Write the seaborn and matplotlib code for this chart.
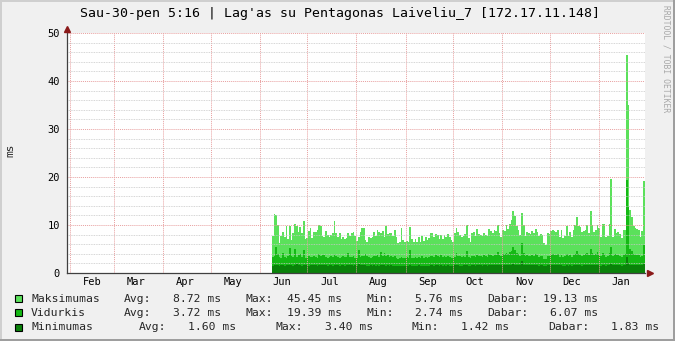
import numpy as np
import pandas as pd
import matplotlib
matplotlib.use("Agg")
import matplotlib.pyplot as plt
import matplotlib.dates as mdates
from matplotlib.patches import Rectangle
from matplotlib.ticker import MultipleLocator, NullFormatter
import seaborn as sns

# ---------------- data ----------------
title = "Sau-30-pen 5:16 | Lag'as su Pentagonas Laiveliu_7 [172.17.11.148]"
y_label = "ms"
x_start = "2014-01-30 05:16"
x_end = "2015-01-30 05:16"
data_start = "2014-06-08 14:00"
data_end = "2015-01-30 03:00"

series_names = ["Maksimumas", "Vidurkis", "Minimumas"]

max_vals = [
    7.8, 12.3, 12.0, 10.0, 6.2, 7.8, 8.6, 7.5, 9.7, 7.0, 9.8, 6.9, 8.3, 10.2, 9.8, 8.5, 9.6, 8.4,
    10.8, 7.1, 7.3, 8.8, 9.3, 7.3, 8.6, 8.6, 9.0, 10.0, 9.7, 7.8, 7.6, 8.7, 8.0, 7.6, 8.0, 8.3,
    10.9, 8.3, 7.6, 8.3, 7.0, 7.5, 7.1, 7.3, 8.4, 7.7, 8.3, 8.6, 7.7, 6.7, 7.6, 8.6, 9.4, 9.4,
    6.9, 6.5, 7.6, 7.3, 7.4, 8.5, 7.7, 9.0, 8.6, 8.3, 8.7, 7.6, 9.7, 8.1, 8.3, 8.4, 7.7, 9.0, 7.6,
    6.3, 6.5, 9.3, 6.9, 6.5, 6.7, 6.5, 9.5, 7.1, 6.5, 7.1, 6.5, 7.4, 6.5, 7.7, 6.7, 7.4, 6.9, 7.3,
    8.4, 8.3, 7.4, 8.2, 8.0, 7.1, 8.0, 7.1, 8.0, 7.6, 8.1, 7.6, 6.9, 6.5, 8.3, 9.3, 8.6, 8.0, 7.6,
    7.7, 8.1, 10.0, 7.3, 6.5, 8.3, 8.6, 7.7, 9.1, 8.2, 8.0, 7.7, 8.4, 8.0, 7.7, 9.1, 8.8, 8.3, 9.0,
    8.8, 9.9, 8.3, 7.6, 9.0, 8.8, 10.0, 9.1, 10.3, 11.0, 12.9, 11.9, 9.8, 9.0, 8.0, 12.4, 10.0, 7.7,
    8.6, 8.4, 8.1, 8.8, 8.3, 9.1, 8.6, 7.7, 8.1, 8.0, 6.2, 5.8, 8.3, 8.1, 8.8, 9.0, 8.8, 8.6, 9.0, 7.6,
    9.0, 7.2, 7.7, 9.8, 7.7, 8.6, 7.6, 9.0, 10.0, 11.7, 9.7, 9.5, 8.6, 8.7, 9.0, 10.0, 8.4, 12.9,
    10.0, 8.6, 9.0, 10.1, 9.3, 7.6, 10.3, 10.2, 7.6, 7.7, 10.3, 19.5, 7.6, 9.1, 8.3, 8.6, 8.1, 7.2,
    9.0, 9.0, 45.45, 35.0, 13.1, 11.7, 9.7, 9.3, 9.1, 9.0, 7.6, 8.7, 19.2,
]

mid_vals = [
    3.4, 3.6, 5.5, 3.9, 3.3, 3.1, 4.1, 3.4, 3.2, 3.6, 5.3, 3.5, 3.3, 5.0, 3.4, 3.7, 4.0, 3.3,
    4.7, 3.2, 3.1, 3.5, 3.3, 3.4, 3.6, 3.3, 3.2, 4.0, 3.5, 3.7, 3.8, 3.4, 3.2, 3.3, 3.5, 3.4,
    3.9, 3.6, 3.3, 3.2, 3.4, 3.5, 3.3, 3.3, 4.2, 3.4, 3.3, 3.6, 3.2, 3.1, 4.8, 3.4, 3.6, 3.5,
    3.9, 3.5, 3.3, 3.2, 3.4, 3.6, 3.5, 3.8, 3.4, 4.3, 3.6, 4.1, 3.5, 3.8, 3.4, 3.6, 3.3, 3.5, 3.2,
    3.0, 3.1, 3.4, 3.2, 3.1, 3.3, 3.1, 4.8, 3.2, 3.1, 3.3, 3.2, 3.4, 3.1, 3.5, 3.2, 3.3, 3.2, 3.3,
    3.6, 3.5, 3.3, 3.7, 3.5, 3.4, 3.8, 3.4, 3.6, 3.3, 3.5, 3.4, 3.2, 3.1, 3.4, 4.1, 3.6, 3.5, 3.3,
    3.5, 3.4, 4.6, 3.3, 3.1, 3.5, 3.6, 3.4, 3.8, 3.5, 3.6, 3.4, 3.7, 3.5, 3.4, 3.9, 3.8, 3.6, 3.9,
    3.7, 4.3, 3.8, 3.5, 4.0, 3.9, 4.2, 4.0, 4.4, 4.6, 5.5, 4.8, 4.1, 3.9, 3.6, 6.2, 4.2, 3.5,
    3.7, 3.6, 3.5, 3.8, 3.6, 3.9, 3.7, 3.4, 3.6, 3.5, 3.0, 2.9, 3.6, 3.5, 3.8, 3.9, 3.8, 3.7, 3.9, 3.4,
    3.8, 3.4, 3.6, 4.0, 3.5, 3.7, 3.4, 3.8, 4.0, 4.6, 3.9, 3.7, 3.6, 3.8, 3.9, 4.2, 3.7, 4.9,
    4.1, 3.8, 3.9, 4.3, 3.8, 3.5, 4.1, 4.0, 3.4, 3.6, 4.2, 5.5, 3.5, 3.9, 3.7, 3.8, 3.6, 3.4,
    3.8, 3.9, 19.39, 13.75, 5.1, 4.6, 3.9, 3.8, 3.7, 3.8, 3.4, 3.6, 5.8,
]

min_vals = [
    1.5, 1.6, 1.7, 1.6, 1.5, 1.6, 1.6, 1.5, 1.6, 1.6, 1.7, 1.6, 1.5, 1.6, 1.8, 1.6, 1.6, 1.5,
    1.7, 1.6, 1.6, 1.5, 1.6, 1.6, 1.7, 1.6, 1.5, 1.6, 1.6, 1.6, 1.7, 1.6, 1.5, 1.6, 1.6, 1.5,
    1.7, 1.6, 1.6, 1.5, 1.6, 1.6, 1.5, 1.6, 1.7, 1.6, 1.6, 1.5, 1.6, 1.5, 1.8, 1.6, 1.6, 1.6,
    1.6, 1.5, 1.5, 1.6, 1.5, 1.6, 1.5, 1.6, 1.5, 1.7, 1.6, 1.6, 1.5, 1.6, 1.5, 1.6, 1.5, 1.5, 1.5,
    1.4, 1.5, 1.5, 1.5, 1.5, 1.5, 1.5, 1.7, 1.5, 1.5, 1.5, 1.5, 1.6, 1.5, 1.5, 1.5, 1.5, 1.5, 1.5,
    1.6, 1.6, 1.5, 1.6, 1.6, 1.5, 1.6, 1.5, 1.6, 1.5, 1.6, 1.5, 1.5, 1.5, 1.6, 1.7, 1.6, 1.5, 1.5,
    1.6, 1.6, 1.7, 1.5, 1.5, 1.6, 1.6, 1.5, 1.6, 1.6, 1.6, 1.5, 1.6, 1.6, 1.5, 1.6, 1.6, 1.6, 1.7,
    1.6, 1.7, 1.6, 1.6, 1.6, 1.6, 1.7, 1.6, 1.7, 1.7, 1.8, 1.7, 1.6, 1.6, 1.6, 2.4, 1.7, 1.6,
    1.6, 1.6, 1.6, 1.6, 1.6, 1.7, 1.6, 1.5, 1.6, 1.6, 1.5, 1.5, 1.6, 1.6, 1.6, 1.7, 1.6, 1.6, 1.7, 1.6,
    1.6, 1.5, 1.5, 1.6, 1.5, 1.6, 1.5, 1.6, 1.6, 1.7, 1.6, 1.6, 1.5, 1.6, 1.6, 1.7, 1.6, 1.7,
    1.6, 1.6, 1.6, 1.7, 1.6, 1.5, 1.6, 1.6, 1.5, 1.6, 1.6, 1.8, 1.6, 1.6, 1.6, 1.6, 1.6, 1.5,
    1.6, 1.7, 3.4, 2.0, 1.7, 1.7, 1.7, 1.6, 1.7, 1.7, 1.7, 1.7, 1.8,
]

stat_avg = [8.72, 3.72, 1.60]
stat_max = [45.45, 19.39, 3.40]
stat_min = [5.76, 2.74, 1.42]
stat_cur = [19.13, 6.07, 1.83]
stat_labels = ["Avg:", "Max:", "Min:", "Dabar:"]

# ---------------- style ----------------
W, H = 675, 341
colors = ["#5BE15B", "#15B915", "#0A820A"]
sns.set_style("white")
plt.rcParams["font.family"] = ["DejaVu Sans Mono"]

fig = plt.figure(figsize=(W / 100, H / 100), dpi=100, facecolor="#F0F0F0")


def P(x, y):
    return (x / W, 1 - y / H)


ax = fig.add_axes([67 / W, 1 - 273 / H, (645 - 67) / W, (273 - 33) / H])
ax.set_facecolor("white")

t0 = mdates.date2num(pd.Timestamp(data_start))
t1 = mdates.date2num(pd.Timestamp(data_end))
n = len(max_vals)
edges = np.linspace(t0, t1, n + 1)
mids = (edges[:-1] + edges[1:]) / 2
bin_edges = [float(e) for e in edges]

for vals, col in zip([max_vals, mid_vals, min_vals], colors):
    df = pd.DataFrame({"t": mids, "v": np.asarray(vals, dtype=float)})
    sns.histplot(data=df, x="t", weights="v", bins=bin_edges, element="step", fill=True,
                 color=col, alpha=1, linewidth=0, ax=ax, zorder=1)

ax.set_xlim(mdates.date2num(pd.Timestamp(x_start)), mdates.date2num(pd.Timestamp(x_end)))
ax.set_ylim(0, 50)
ax.set_xlabel("")
ax.set_ylabel("")

# y ticks / grid
ax.yaxis.set_major_locator(MultipleLocator(10))
ax.yaxis.set_minor_locator(MultipleLocator(2))
ax.tick_params(axis="y", which="major", length=3, width=0.8, color="#444444",
               labelsize=7.5, pad=2, labelcolor="black")
ax.tick_params(axis="y", which="minor", length=0)

# x ticks: month starts (grid), mid-month labels
ax.xaxis.set_major_locator(mdates.MonthLocator(bymonthday=1))
ax.xaxis.set_major_formatter(NullFormatter())
ax.xaxis.set_minor_locator(mdates.MonthLocator(bymonthday=15))
ax.xaxis.set_minor_formatter(mdates.DateFormatter("%b"))
ax.tick_params(axis="x", which="major", length=2, color="#E08080", width=0.8)
ax.tick_params(axis="x", which="minor", length=0, labelsize=7.5, pad=3, labelcolor="black")

ax.set_axisbelow(False)
ax.grid(False)
ax.yaxis.grid(True, which="minor", color="#C8C8C8", linestyle=(0, (1, 1)), linewidth=0.6)
ax.yaxis.grid(True, which="major", color="#E8A0A0", linestyle=(0, (1, 1)), linewidth=0.7)
ax.xaxis.grid(True, which="major", color="#E8A0A0", linestyle=(0, (1, 1)), linewidth=0.7)

for s in ["top", "right"]:
    ax.spines[s].set_visible(False)
for s in ["left", "bottom"]:
    ax.spines[s].set_color("#404040")
    ax.spines[s].set_linewidth(0.9)
    ax.spines[s].set_zorder(3)

# arrow heads
ax.plot([0], [1.015], marker="^", ms=4.5, color="#8B1A1A", transform=ax.transAxes,
        clip_on=False, zorder=5)
ax.plot([1.008], [0], marker=">", ms=4.5, color="#8B1A1A", transform=ax.transAxes,
        clip_on=False, zorder=5)

# title, y label, watermark
fig.text(*P(340, 13), title, ha="center", va="center", fontsize=9.5, color="black")
fig.text(*P(10, 150), y_label, ha="center", va="center", rotation=90, fontsize=8)
fig.text(*P(666, 5), "RRDTOOL / TOBI OETIKER", ha="center", va="top", rotation=270,
         fontsize=5.8, color="#A8A8A8")

# legend
row_y = [298.5, 312.5, 327]
cols_a = [124, 245, 366, 487]
ends_a = [221, 342, 463, 598]
cols_b = [139, 275, 412, 548]
ends_b = [236, 373, 509, 659]
for i, name in enumerate(series_names):
    yc = row_y[i]
    fig.patches.append(Rectangle(P(15, yc + 3.5), 7 / W, 7 / H, transform=fig.transFigure,
                                 facecolor=colors[i], edgecolor="black", linewidth=0.8))
    fig.text(*P(31, yc), name, ha="left", va="center", fontsize=8.2)
    cols, ends = (cols_a, ends_a) if i < 2 else (cols_b, ends_b)
    values = [stat_avg[i], stat_max[i], stat_min[i], stat_cur[i]]
    for lab, cx, ex, v in zip(stat_labels, cols, ends, values):
        fig.text(*P(cx, yc), lab, ha="left", va="center", fontsize=8.2)
        fig.text(*P(ex, yc), f"{v:.2f} ms", ha="right", va="center", fontsize=8.2)

# frame shading
fig.patches.append(Rectangle((0, 1 - 2 / H), 1, 2 / H, transform=fig.transFigure,
                             facecolor="#CFCFCF", edgecolor="none"))
fig.patches.append(Rectangle((0, 0), 2 / W, 1, transform=fig.transFigure,
                             facecolor="#CFCFCF", edgecolor="none"))
fig.patches.append(Rectangle((0, 0), 1, 2 / H, transform=fig.transFigure,
                             facecolor="#9E9E9E", edgecolor="none"))
fig.patches.append(Rectangle((1 - 2 / W, 0), 2 / W, 1, transform=fig.transFigure,
                             facecolor="#9E9E9E", edgecolor="none"))

fig.savefig("out.png", dpi=100, facecolor=fig.get_facecolor())
